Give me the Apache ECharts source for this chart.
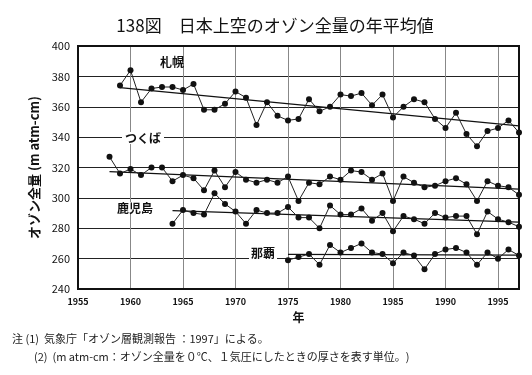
<!DOCTYPE html>
<html>
<head>
<meta charset="utf-8">
<script src="https://cdn.jsdelivr.net/npm/echarts@6/dist/echarts.min.js"></script>
<style>
  html, body { margin: 0; padding: 0; background: #fff; }
  #chart { width: 532px; height: 375px; }
</style>
</head>
<body>
<div id="chart"></div>
<script>
// 各地点の年平均値（m atm-cm）
var sapporoStart = 1959;
var sapporoValues = [374, 384, 363, 372, 373, 373, 371, 375, 358, 358, 362, 370, 366, 348, 363, 354, 351, 352,
  365, 357, 360, 368, 367, 369, 361, 368, 353, 360, 365, 363, 352, 346, 356, 342, 334, 344, 346, 351, 343];
var tsukubaStart = 1958;
var tsukubaValues = [327, 316, 319, 315, 320, 320, 311, 315, 313, 305, 318, 307, 317, 312, 310, 312, 310, 314,
  298, 310, 309, 314, 312, 318, 317, 312, 316, 298, 314, 310, 307, 308, 311, 313, 309, 298, 311, 308, 307, 302];
var kagoshimaStart = 1964;
var kagoshimaValues = [283, 292, 290, 289, 303, 296, 291, 283, 292, 290, 290, 294, 287, 287,
  280, 295, 289, 289, 293, 285, 290, 278, 288, 286, 283, 290, 287, 288, 288, 276, 291, 286, 284, 281];
var nahaStart = 1975;
var nahaValues = [259, 261, 263, 256, 269, 264, 267, 270, 264, 263, 257, 264, 262, 253, 263, 266, 267, 264,
  256, 264, 260, 266, 262];

// 回帰直線（始点・終点）
var sapporoTrend = [[1959, 372.6], [1997, 347.4]];
var tsukubaTrend = [[1958, 317.3], [1997, 305.7]];
var kagoshimaTrend = [[1964, 291.6], [1997, 284.0]];
var nahaTrend = [[1975, 262.8], [1997, 262.3]];

var yTicks = [240, 260, 280, 300, 320, 340, 360, 380, 400];
var stationNames = ['札幌', 'つくば', '鹿児島', '那覇'];

function toPairs(start, values) {
  return values.map(function (v, i) { return [start + i, v]; });
}

var font = '"Noto Sans CJK JP", "Noto Sans", sans-serif';

var chart = echarts.init(document.getElementById('chart'));

function obsSeries(name, start, values) {
  return {
    name: name,
    type: 'line',
    data: toPairs(start, values),
    symbol: 'circle',
    symbolSize: 6,
    lineStyle: { color: '#222', width: 1 },
    itemStyle: { color: '#111' },
    z: 3
  };
}
function trendSeries(name, pts) {
  return {
    name: name + '傾向',
    type: 'line',
    data: pts,
    symbol: 'none',
    lineStyle: { color: '#111', width: 1.2 },
    z: 2
  };
}

var option = {
  backgroundColor: '#fff',
  animation: false,
  title: {
    text: '138図　日本上空のオゾン全量の年平均値',
    left: 270, top: 12, textAlign: 'center',
    textStyle: { fontFamily: font, fontSize: 17, fontWeight: 'normal', color: '#111' }
  },
  grid: { left: 78, right: 13, top: 46, bottom: 86 },
  xAxis: {
    type: 'value', min: 1955, max: 1997, interval: 5,
    name: '年', nameLocation: 'middle', nameGap: 22,
    nameTextStyle: { fontFamily: font, fontSize: 12, fontWeight: 'bold', color: '#111' },
    axisLine: { lineStyle: { color: '#111', width: 2 } },
    axisTick: { show: false },
    axisLabel: {
      fontFamily: font, fontSize: 9, fontWeight: 'bold', color: '#111', margin: 8,
      formatter: function (v) { return String(v); }
    },
    splitLine: { show: true, lineStyle: { color: '#888', width: 1 } }
  },
  yAxis: {
    type: 'value', min: yTicks[0], max: yTicks[yTicks.length - 1], interval: 20,
    name: 'オゾン全量 (m atm-cm)', nameLocation: 'middle', nameGap: 24, nameRotate: 90,
    nameTextStyle: { fontFamily: font, fontSize: 13, fontWeight: 'bold', color: '#111' },
    axisLine: { show: true, lineStyle: { color: '#111', width: 2 } },
    axisTick: { show: false },
    axisLabel: { fontFamily: font, fontSize: 11, color: '#111', margin: 8 },
    splitLine: { show: true, lineStyle: { color: '#222', width: 1 } }
  },
  series: [
    obsSeries(stationNames[0], sapporoStart, sapporoValues),
    obsSeries(stationNames[1], tsukubaStart, tsukubaValues),
    obsSeries(stationNames[2], kagoshimaStart, kagoshimaValues),
    obsSeries(stationNames[3], nahaStart, nahaValues),
    trendSeries(stationNames[0], sapporoTrend),
    trendSeries(stationNames[1], tsukubaTrend),
    trendSeries(stationNames[2], kagoshimaTrend),
    trendSeries(stationNames[3], nahaTrend)
  ],
  graphic: [
    // 外枠
    { type: 'rect', shape: { x: 78, y: 46, width: 441, height: 243 }, style: { fill: 'none', stroke: '#111', lineWidth: 2 }, z: 10 },
    { type: 'text', left: 160, top: 56, style: { text: '札幌', font: 'bold 12px ' + font, fill: '#111' }, z: 10 },
    { type: 'text', left: 122, top: 132, style: { text: 'つくば', font: 'bold 12px ' + font, fill: '#111', backgroundColor: '#fff', padding: [0, 3] }, z: 10 },
    { type: 'text', left: 117, top: 202, style: { text: '鹿児島', font: 'bold 12px ' + font, fill: '#111', backgroundColor: '#fff' }, z: 10 },
    { type: 'text', left: 249, top: 247, style: { text: '那覇', font: 'bold 12px ' + font, fill: '#111', backgroundColor: '#fff', padding: [0, 2] }, z: 10 },
    { type: 'text', left: 12, top: 333, style: { text: '注 (1)  気象庁「オゾン層観測報告 ：1997」による。', font: '11px ' + font, fill: '#222' } },
    { type: 'text', left: 34, top: 351, style: { text: '(2)  (m atm-cm：オゾン全量を０℃、１気圧にしたときの厚さを表す単位。)', font: '11px ' + font, fill: '#222' } }
  ]
};

chart.setOption(option);
window.onresize = function () { chart.resize(); };
</script>
</body>
</html>
